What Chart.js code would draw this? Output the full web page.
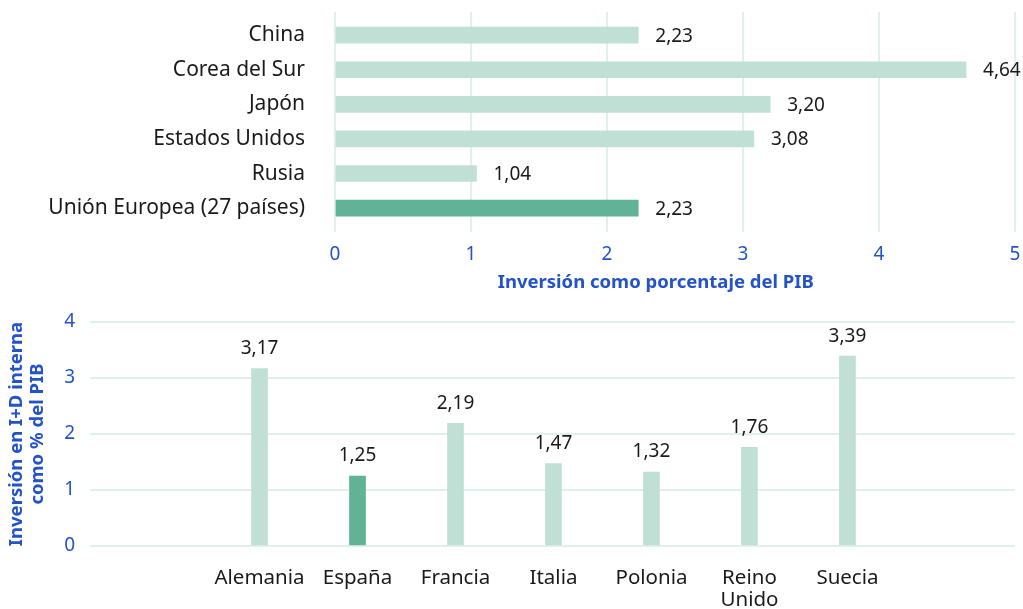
<!DOCTYPE html>
<html>
<head>
<meta charset="utf-8">
<script src="https://cdn.jsdelivr.net/npm/chart.js@4"></script>
<style>
  html, body { margin: 0; padding: 0; background: #ffffff; }
  #wrap { position: relative; width: 1023px; height: 609px; }
  canvas { position: absolute; left: 0; }
  #top { top: 0; }
  #bottom { top: 300px; }
</style>
</head>
<body>
<div id="wrap">
  <canvas id="top" width="1023" height="300"></canvas>
  <canvas id="bottom" width="1023" height="309"></canvas>
</div>
<script>
// ---- Data ----
const worldCategories = ['China', 'Corea del Sur', 'Japón', 'Estados Unidos', 'Rusia', 'Unión Europea (27 países)'];
const worldValues = [2.23, 4.64, 3.20, 3.08, 1.04, 2.23];
const worldHighlight = 'Unión Europea (27 países)';
const worldTicks = [0, 1, 2, 3, 4, 5];

const euCategories = [['Alemania'], ['España'], ['Francia'], ['Italia'], ['Polonia'], ['Reino', 'Unido'], ['Suecia']];
const euValues = [3.17, 1.25, 2.19, 1.47, 1.32, 1.76, 3.39];
const euHighlight = 'España';
const euTicks = [0, 1, 2, 3, 4];

const topAxisTitle = 'Inversión como porcentaje del PIB';
const bottomAxisTitle = ['Inversión en I+D interna', 'como % del PIB'];

// ---- Styles ----
const LIGHT = '#c0e0d5';
const DARK = '#62b295';
const GRID = '#e0f1ec';
const BLUE = '#2352c9';
const TEXT = '#1a1a1a';
const FONT = "'Noto Sans', 'Open Sans', sans-serif";

const fmt = v => v.toFixed(2).replace('.', ',');

const valueLabels = {
  id: 'valueLabels',
  afterDatasetsDraw(chart, args, opts) {
    const ctx = chart.ctx;
    const meta = chart.getDatasetMeta(0);
    const data = chart.data.datasets[0].data;
    ctx.save();
    ctx.font = '19px ' + FONT;
    ctx.fillStyle = TEXT;
    meta.data.forEach((el, i) => {
      const d = data[i];
      const v = opts.horizontal ? d.x : d.y;
      ctx.textBaseline = 'middle';
      if (opts.horizontal) {
        ctx.textAlign = 'left';
        ctx.fillText(fmt(v), el.x + 17, el.y + 1);
      } else {
        ctx.textAlign = 'center';
        ctx.fillText(fmt(v), el.x, el.y - 20);
      }
    });
    ctx.restore();
  }
};

const noEdgePadding = s => { s.paddingTop = 0; s.paddingBottom = 0; s.paddingLeft = 0; s.paddingRight = 0; };

Chart.defaults.font.family = FONT;
Chart.defaults.animation = false;

// ---- Top chart: world comparison (horizontal bars) ----
new Chart(document.getElementById('top'), {
  type: 'bar',
  data: {
    datasets: [{
      data: worldValues.map((v, i) => ({ x: v, y: i })),
      backgroundColor: worldCategories.map(c => c === worldHighlight ? DARK : LIGHT),
      barThickness: 16,
      borderWidth: 0
    }]
  },
  options: {
    indexAxis: 'y',
    responsive: false,
    layout: { padding: { top: 12, right: 8, bottom: 0, left: 0 } },
    plugins: {
      legend: { display: false },
      tooltip: { enabled: false },
      valueLabels: { horizontal: true }
    },
    scales: {
      x: {
        type: 'linear',
        position: 'bottom',
        offset: false,
        min: worldTicks[0],
        max: worldTicks[worldTicks.length - 1],
        afterBuildTicks: s => { s.ticks = worldTicks.map(v => ({ value: v })); },
        afterFit: s => { s.height = 68; noEdgePadding(s); },
        grid: { color: GRID, lineWidth: 2, drawTicks: false },
        border: { display: false },
        ticks: { color: BLUE, font: { size: 19 }, padding: 11, maxRotation: 0 },
        title: {
          display: true,
          text: topAxisTitle + '        ',
          color: BLUE,
          font: { size: 18.5, weight: 'bold' },
          padding: { top: 0, bottom: 6 }
        }
      },
      y: {
        type: 'linear',
        offset: false,
        reverse: true,
        min: -0.67,
        max: worldCategories.length - 1 + 0.69,
        afterBuildTicks: s => { s.ticks = worldCategories.map((c, i) => ({ value: i })); },
        afterFit: s => { s.width = 335; noEdgePadding(s); },
        grid: { display: false, drawTicks: false },
        border: { display: false },
        ticks: {
          color: TEXT,
          font: { size: 21 },
          padding: 30,
          callback: (v) => worldCategories[v]
        }
      }
    }
  },
  plugins: [valueLabels]
});

// ---- Bottom chart: EU countries (vertical bars) ----
new Chart(document.getElementById('bottom'), {
  type: 'bar',
  data: {
    datasets: [{
      data: euValues.map((v, i) => ({ x: i, y: v })),
      backgroundColor: euCategories.map(c => c.join(' ') === euHighlight ? DARK : LIGHT),
      barThickness: 16,
      borderWidth: 0
    }]
  },
  options: {
    responsive: false,
    layout: { padding: { top: 22, right: 8, bottom: 0, left: 0 } },
    plugins: {
      legend: { display: false },
      tooltip: { enabled: false },
      valueLabels: { horizontal: false }
    },
    scales: {
      x: {
        type: 'linear',
        offset: false,
        min: -1.73,
        max: euCategories.length - 1 + 1.71,
        afterBuildTicks: s => { s.ticks = euCategories.map((c, i) => ({ value: i })); },
        afterFit: s => { s.height = 63; noEdgePadding(s); },
        grid: { display: false, drawTicks: false },
        border: { display: false },
        ticks: {
          color: TEXT,
          font: { size: 20.5, lineHeight: '22px' },
          padding: 21,
          maxRotation: 0,
          autoSkip: false,
          callback: (v) => euCategories[v]
        }
      },
      y: {
        type: 'linear',
        min: euTicks[0],
        max: euTicks[euTicks.length - 1],
        afterBuildTicks: s => { s.ticks = euTicks.map(v => ({ value: v })); },
        afterFit: s => { s.width = 90; noEdgePadding(s); },
        grid: { color: GRID, lineWidth: 2, drawTicks: false },
        border: { display: false },
        ticks: { color: BLUE, font: { size: 19 }, padding: 15 },
        title: {
          display: true,
          text: bottomAxisTitle,
          color: BLUE,
          font: { size: 18.5, weight: 'bold', lineHeight: '21px' },
          padding: { top: 6.5, bottom: 0 }
        }
      }
    }
  },
  plugins: [valueLabels]
});
</script>
</body>
</html>
